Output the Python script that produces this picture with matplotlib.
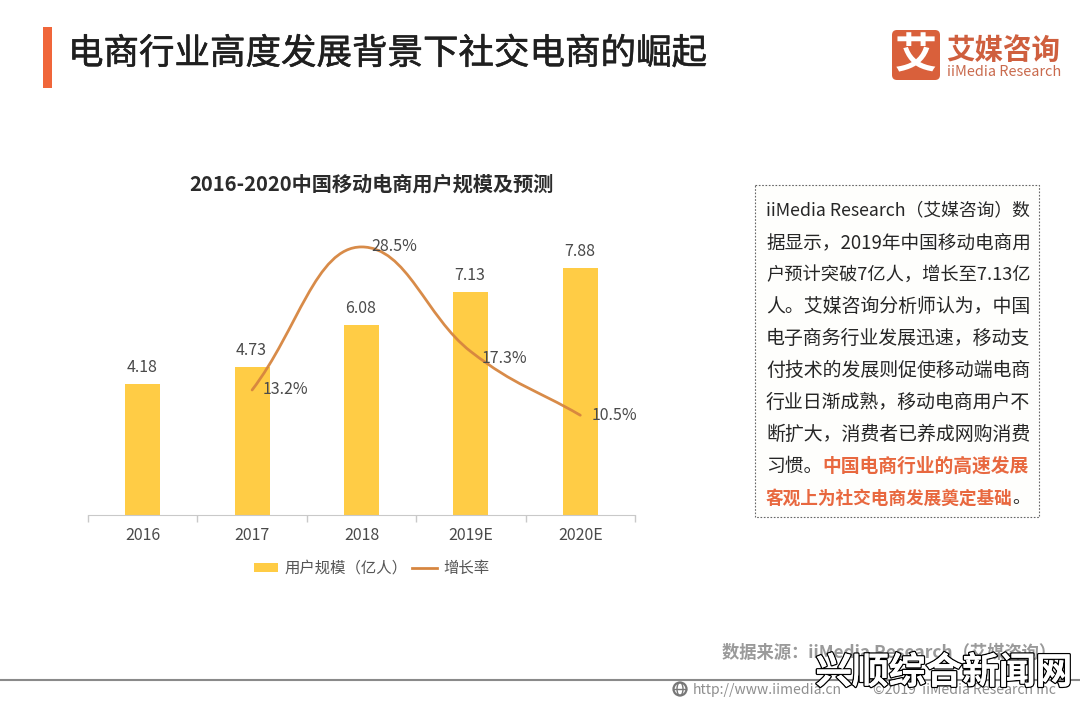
import matplotlib
matplotlib.use("Agg")
import matplotlib.pyplot as plt
import matplotlib.patheffects as pe
from matplotlib.patches import Rectangle, FancyBboxPatch, Circle, Ellipse, PathPatch
from matplotlib.path import Path
from matplotlib.lines import Line2D

plt.rcParams['font.family'] = ['Noto Sans CJK SC', 'DejaVu Sans']

categories = ['2016', '2017', '2018', '2019E', '2020E']
users = [4.18, 4.73, 6.08, 7.13, 7.88]
rate_categories = [1, 2, 3, 4]
rates = [13.2, 28.5, 17.3, 10.5]
rate_labels = ['13.2%', '28.5%', '17.3%', '10.5%']
user_labels = ['4.18', '4.73', '6.08', '7.13', '7.88']
title = '电商行业高度发展背景下社交电商的崛起'
chart_title = '2016-2020中国移动电商用户规模及预测'
series_names = ['用户规模（亿人）', '增长率']
body_lines = [
    'iiMedia Research（艾媒咨询）数',
    '据显示，2019年中国移动电商用',
    '户预计突破7亿人，增长至7.13亿',
    '人。艾媒咨询分析师认为，中国',
    '电子商务行业发展迅速，移动支',
    '付技术的发展则促使移动端电商',
    '行业日渐成熟，移动电商用户不',
    '断扩大，消费者已养成网购消费',
]
body_tail = [('习惯。', '中国电商行业的高速发展', ''), ('', '客观上为社交电商发展奠定基础', '。')]

W, H = 1080, 703
px = 0.72  # points per pixel at dpi 100
fig = plt.figure(figsize=(W / 100, H / 100), dpi=100, facecolor='#FFFFFF')

# full-figure layer in pixel coordinates for the slide furniture
bg = fig.add_axes([0, 0, 1, 1], zorder=0)
bg.set_xlim(0, W)
bg.set_ylim(H, 0)
bg.axis('off')

DARK = '#2B2B2B'
GREY = '#4A4A4A'
BAR = '#FFCC45'
LINE = '#D6853F'

bg.add_patch(Rectangle((43, 27), 9, 61, fc='#F0663A', ec='none'))
bg.text(68, 54, title, fontsize=35.5 * px, color='#1F1F1F', va='center', ha='left',
        path_effects=[pe.withStroke(linewidth=0.4, foreground='#1F1F1F')])

# logo
bg.add_patch(FancyBboxPatch((895, 33), 42, 44, boxstyle='round,pad=3,rounding_size=5', fc='#D9603B', ec='none'))
bg.text(916, 56, '艾', fontsize=42 * px, color='white', weight='bold', ha='center', va='center')
bg.text(1003, 51, '艾媒咨询', fontsize=28.5 * px, color='#CF5F3E', weight='bold', ha='center', va='center')
bg.text(1004, 72, 'iiMedia Research', fontsize=14.5 * px, color='#C96A4D', ha='center', va='center')

# chart
left, right, base, top = 88, 635, 515, 230
ax = fig.add_axes([left / W, 1 - base / H, (right - left) / W, (base - top) / H], zorder=2)
ax.patch.set_alpha(0)
x = list(range(len(categories)))
ax.bar(x, users, width=0.32, color=BAR, zorder=2, label=series_names[0])
ax.set_xlim(-0.5, 4.5)
ax.set_ylim(0, (base - top) / 31.3)
for s in ['top', 'left', 'right']:
    ax.spines[s].set_visible(False)
ax.spines['bottom'].set_color('#C9C9C9')
ax.set_yticks([])
ax.set_xticks([i - 0.5 for i in range(6)], minor=False)
ax.set_xticklabels([])
ax.tick_params(axis='x', length=5, color='#C9C9C9', width=1)
ax.set_xticks(x, minor=True)
ax.set_xticklabels(categories, minor=True, fontsize=16 * px, color=GREY)
ax.tick_params(axis='x', which='minor', length=0, pad=9)
for xi, v, lab in zip(x, users, user_labels):
    ax.annotate(lab, (xi, v), xytext=(-1 * px, 16.5 * px), textcoords='offset points', ha='center', va='center',
                fontsize=16 * px, color=GREY, zorder=5)

ax2 = ax.twinx()
ax2.patch.set_alpha(0)
ax2.set_ylim(-0.17, -0.17 + (base - top) / 9.35)
ax2.set_yticks([])
for s in ax2.spines.values():
    s.set_visible(False)

# smooth line: cubic segments through the data points, flat tangent at the peak
verts = [(rate_categories[0], rates[0])]
codes = [Path.MOVETO]
n = len(rates)
tang = []
for i in range(n):
    a = max(i - 1, 0)
    b = min(i + 1, n - 1)
    t = (rates[b] - rates[a]) / (rate_categories[b] - rate_categories[a])
    if 0 < i < n - 1 and (rates[i] - rates[a]) * (rates[b] - rates[i]) < 0:
        t = 0.0
    tang.append(t)
for i in range(n - 1):
    h = rate_categories[i + 1] - rate_categories[i]
    verts += [(rate_categories[i] + h / 2.4, rates[i] + tang[i] * h / 2.4),
              (rate_categories[i + 1] - h / 2.4, rates[i + 1] - tang[i + 1] * h / 2.4),
              (rate_categories[i + 1], rates[i + 1])]
    codes += [Path.CURVE4] * 3
ax2.add_patch(PathPatch(Path(verts, codes), fc='none', ec=LINE, lw=2.5 * px * 1.1, capstyle='round', alpha=0.95))
offsets = [(33, 0), (33, 0), (34, -7), (34, 0)]
for xi, v, lab, (dx, dy) in zip(rate_categories, rates, rate_labels, offsets):
    ax2.annotate(lab, (xi, v), xytext=(dx * px, dy * px), textcoords='offset points', ha='center', va='center',
                 fontsize=16 * px, color=GREY, zorder=6)

bg.text(371.5, 184, chart_title, fontsize=20.2 * px, color=DARK, weight='bold', ha='center', va='center')

# legend
handles = [Rectangle((0, 0), 1, 1, fc=BAR, ec='none'), Line2D([0], [0], color=LINE, lw=2.5 * px * 1.1)]
leg = fig.legend(handles, series_names, loc='center', bbox_to_anchor=(371.5 / W, 1 - 568.5 / H), ncol=2, frameon=False,
                 fontsize=15.4 * px, labelcolor='#555555', handlelength=1.6, handleheight=0.6,
                 handletextpad=0.4, columnspacing=0.3, borderpad=0)

# text box
box = Rectangle((755, 185), 284, 332, fc='#FEFEFC', ec='#666666', lw=0.8, ls=(0, (1.5, 1.5)), zorder=1)
bg.add_patch(box)
FS = 18.7 * px
TEXT_W = 264
yy = 210.5
r = fig.canvas.get_renderer()
for line in body_lines:
    t = bg.text(766, yy, line, fontsize=FS, color='#262626', va='center', ha='left', zorder=3)
    t.set_fontsize(FS * TEXT_W / t.get_window_extent(r).width)
    yy += 32
tail_sizes = [18.8 * px, 17.65 * px]
for (a, b, c), fs in zip(body_tail, tail_sizes):
    cx = 766
    if a:
        t = bg.text(cx, yy, a, fontsize=fs, color='#262626', va='center', ha='left', zorder=3)
        cx += t.get_window_extent(r).width
    t = bg.text(cx, yy, b, fontsize=fs, color='#E8683F', weight='bold', va='center', ha='left', zorder=3)
    cx += t.get_window_extent(r).width
    if c:
        bg.text(cx, yy, c, fontsize=fs, color='#262626', va='center', ha='left', zorder=3)
    yy += 32

# footer
bg.text(722, 653, '数据来源：iiMedia Research（艾媒咨询）', fontsize=17.3 * px, color='#9A9A9A', weight='bold', va='center', ha='left')
bg.plot([0, 1080], [680, 680], color='#8A8A8A', lw=1.5)
bg.add_patch(Circle((680, 689), 6.5, fc='none', ec='#777777', lw=1.6))
bg.add_patch(Ellipse((680, 689), 6, 13, fc='none', ec='#777777', lw=1))
bg.plot([674, 686], [689, 689], color='#777777', lw=1)
bg.text(693, 690, 'http://www.iimedia.cn', fontsize=14 * px, color='#8E8E8E', va='center', ha='left')
bg.text(873, 690, '©2019  iiMedia Research Inc', fontsize=14 * px, color='#8E8E8E', va='center', ha='left')
bg.text(944, 673, '兴顺综合新闻网', fontsize=36.7 * px, color='white', weight='bold', va='center', ha='center', zorder=8,
        path_effects=[pe.withStroke(linewidth=2, foreground='black'), pe.Normal()])

fig.savefig('out.png', dpi=100, facecolor=fig.get_facecolor())
